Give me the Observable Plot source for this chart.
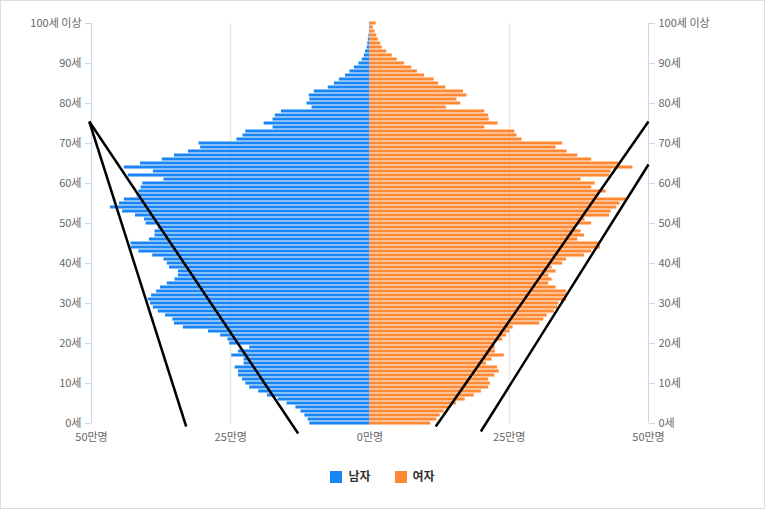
<!DOCTYPE html>
<html><head><meta charset="utf-8">
<script src="https://cdn.jsdelivr.net/npm/d3@7"></script>
<script src="https://cdn.jsdelivr.net/npm/@observablehq/plot@0.6"></script>
<style>
html,body{margin:0;padding:0;background:#fff;}
#wrap{width:763px;height:507px;border:1px solid #ddd;font-family:"Noto Sans CJK KR","Noto Sans",sans-serif;position:relative;}
#legend{position:absolute;top:466px;left:0;width:763px;text-align:center;font-size:12px;font-weight:bold;color:#333;}
#legend span.sw{display:inline-block;width:12px;height:12px;vertical-align:-2px;margin-right:6px;}
#legend span.it{margin:0 12px;}
</style></head>
<body><div id="wrap"><div id="chart"></div>
<div id="legend"><span class="it"><span class="sw" style="background:#1a85f5"></span>남자</span><span class="it"><span class="sw" style="background:#ff8833"></span>여자</span></div></div>
<script>
const ages = d3.range(0, 101);
// values in 만명 (10,000), index = age
const male = [10.8,11.1,11.7,12.4,13.3,14.9,16.5,18.4,20.0,21.6,
22.3,22.9,23.6,23.6,24.2,22.6,22.6,24.8,23.6,21.6,
25.2,25.5,26.8,29.0,33.5,35.1,35.4,36.7,38.0,38.9,
39.4,39.8,39.2,38.3,37.6,36.4,35.0,34.4,34.4,36.0,
36.4,37.0,39.0,41.5,42.9,42.9,39.6,38.6,38.6,38.0,
40.2,40.5,42.1,44.4,46.6,45.0,44.1,41.8,41.5,41.1,
40.8,37.0,43.4,38.9,44.1,41.2,37.3,35.1,32.6,30.4,
30.7,23.9,22.8,22.3,17.4,19.0,17.4,17.0,15.9,10.4,
11.3,10.8,10.9,10.0,7.5,6.4,5.5,4.4,3.6,2.8,
2.0,1.4,1.0,0.8,0.5,0.4,0.3,0.2,0.1,0.1,0.1];
const female = [10.9,12.0,12.6,13.3,14.2,15.5,17.1,18.7,20.0,21.3,
21.6,21.3,22.4,23.2,22.9,20.9,21.9,24.1,22.5,22.5,
22.2,23.8,24.5,25.1,25.7,30.5,31.2,31.8,33.1,33.7,
33.9,35.3,35.3,35.3,33.4,32.1,32.7,32.1,33.4,32.7,
34.6,35.3,38.5,39.8,41.4,41.1,37.3,38.5,37.9,36.9,
39.8,38.6,43.0,43.3,44.3,44.9,46.2,41.1,42.4,39.8,
40.4,37.9,43.0,43.3,47.2,44.6,39.8,37.3,35.4,33.4,
34.6,27.3,26.4,26.0,20.6,23.0,21.4,21.3,20.6,13.7,
16.3,15.6,17.4,16.8,13.6,12.3,11.5,9.8,8.5,7.5,
6.2,4.9,4.0,3.0,2.2,1.9,1.5,1.2,0.9,0.6,1.1];
const xTicks = [-50,-25,0,25,50];
const yTicks = [0,10,20,30,40,50,60,70,80,90,100];
// annotation strokes in data units (x: 만명, y: age)
const strokes = [
  {x1:-50.4,y1:75.5,x2:-33.0,y2:-0.75},
  {x1:-50.4,y1:75.5,x2:-12.9,y2:-2.5},
  {x1:50.0,y1:75.5,x2:11.8,y2:-0.75},
  {x1:50.0,y1:64.75,x2:19.9,y2:-2.0}
];
const rows = ages.flatMap(a => [
  {age:a, x1:-male[a], x2:0, sex:"남자"},
  {age:a, x1:0, x2:female[a], sex:"여자"}
]);
const yf = a => a === 100 ? "100세 이상" : a + "세";
const plot = Plot.plot({
  width: 763, height: 452,
  marginTop: 22, marginBottom: 30, marginLeft: 90, marginRight: 116,
  style: {fontFamily: '"Noto Sans CJK KR","Noto Sans",sans-serif', fontSize: "11px", color: "#666"},
  x: {domain: [-50, 50], axis: null},
  y: {domain: [0, 100], axis: null},
  color: {domain: ["남자","여자"], range: ["#1a85f5","#ff8833"]},
  marks: [
    Plot.ruleX([-25, 0, 25], {stroke: "#ddd", y1: 0, y2: 100}),
    Plot.ruleX([-50, 50], {stroke: "#ccd6eb", y1: 0, y2: 100}),
    Plot.rectX(rows, {x1: "x1", x2: "x2", y1: d => d.age - 0.38, y2: d => d.age + 0.38, fill: "sex"}),
    Plot.axisY(yTicks, {anchor: "left", tickFormat: yf, tickSize: 6, stroke: "#ccd6eb", fill: "#666", tickPadding: 4}),
    Plot.axisY(yTicks, {anchor: "right", tickFormat: yf, tickSize: 6, stroke: "#ccd6eb", fill: "#666", tickPadding: 4}),
    Plot.axisX(xTicks, {anchor: "bottom", tickFormat: d => Math.abs(d) + "만명", tickSize: 0, tickPadding: 10, fill: "#666"}),
    Plot.link(strokes, {x1: "x1", y1: "y1", x2: "x2", y2: "y2", stroke: "#000", strokeWidth: 2.5, clip: false})
  ]
});
document.getElementById("chart").appendChild(plot);
</script></body></html>
